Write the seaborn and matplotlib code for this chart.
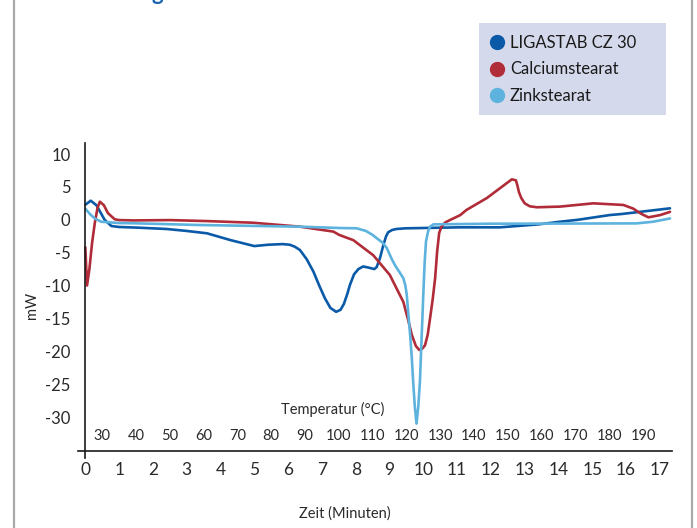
import numpy as np
import pandas as pd
import matplotlib
matplotlib.use("Agg")
import matplotlib.pyplot as plt
from matplotlib.lines import Line2D
from matplotlib.patches import Rectangle
import seaborn as sns

# ---------------- data ----------------
series_names = ["LIGASTAB CZ 30", "Calciumstearat", "Zinkstearat"]

lig_t = [0.0, 0.03, 0.16, 0.33, 0.45, 0.57, 0.77, 1.0, 1.56, 2.4, 3.0, 3.6, 4.3, 5.0, 5.4, 5.84,
         6.05, 6.2, 6.35, 6.55, 6.75, 6.92, 7.09, 7.25, 7.42, 7.55, 7.65, 7.75, 7.83, 7.95,
         8.08, 8.22, 8.4, 8.55, 8.62, 8.72, 8.82, 8.9, 8.96, 9.08, 9.21, 9.48, 11.09, 12.27,
         13.41, 14.04, 14.58, 15.52, 15.86, 17.3]
lig_v = [2.3, 2.4, 2.9, 2.2, 1.1, 0.0, -0.95, -1.1, -1.2, -1.4, -1.7, -2.06, -3.1, -4.0, -3.8, -3.7,
         -3.8, -4.1, -4.6, -6.0, -7.9, -10.0, -11.95, -13.4, -14.0, -13.7, -12.8, -11.3, -9.9, -8.3,
         -7.5, -7.1, -7.3, -7.5, -7.2, -5.8, -3.8, -2.5, -1.9, -1.55, -1.4, -1.3, -1.15, -1.15,
         -0.7, -0.3, 0.0, 0.72, 0.87, 1.74]

ca_t = [0.0, 0.05, 0.12, 0.2, 0.28, 0.36, 0.43, 0.55, 0.67, 0.87, 1.0, 1.42, 2.5, 3.6, 4.96, 6.35,
        7.34, 7.51, 7.93, 8.52, 9.01, 9.41, 9.55, 9.66, 9.78, 9.88, 9.97, 10.05, 10.13, 10.2,
        10.28, 10.35, 10.41, 10.47, 10.54, 10.65, 10.79, 11.09, 11.28, 11.88, 12.62, 12.74,
        12.78, 12.83, 12.9, 13.0, 13.15, 13.36, 14.04, 15.03, 15.92, 16.21, 16.45, 16.66,
        17.0, 17.3]
ca_v = [-4.2, -10.0, -7.5, -3.5, -0.5, 1.8, 2.75, 2.2, 1.0, 0.07, -0.05, -0.1, -0.05, -0.2, -0.45, -1.05,
        -1.8, -2.3, -3.1, -5.4, -8.4, -12.5, -15.2, -17.5, -19.2, -19.8, -19.6, -19.1, -17.5, -15.0,
        -12.0, -8.9, -4.8, -2.0, -1.05, -0.4, -0.04, 0.7, 1.5, 3.3, 6.15, 6.0,
        5.3, 4.2, 3.3, 2.5, 2.05, 1.9, 2.0, 2.5, 2.25, 1.7, 0.9, 0.37,
        0.7, 1.2]

zn_t = [0.0, 0.03, 0.15, 0.28, 0.47, 1.0, 1.56, 3.39, 6.35, 7.51, 8.03, 8.3, 8.5, 8.62, 8.8, 8.92,
        9.05, 9.16, 9.3, 9.41, 9.47, 9.51, 9.56, 9.61, 9.66, 9.70, 9.75, 9.80, 9.85, 9.90, 9.95,
        10.0, 10.04, 10.08, 10.14, 10.2, 10.3, 12.0, 14.0, 16.31, 16.8, 17.3]
zn_v = [1.7, 1.5, 0.8, 0.2, -0.3, -0.5, -0.55, -0.8, -1.05, -1.25, -1.3, -1.7, -2.3, -2.8, -3.5, -4.3,
        -5.8, -6.9, -8.0, -8.9, -10.0, -11.4, -14.5, -17.5, -21.0, -24.6, -28.5, -31.0, -28.5, -24.6, -18.0,
        -11.4, -6.5, -3.3, -1.8, -1.05, -0.7, -0.6, -0.58, -0.55, -0.3, 0.2]

y_ticks = [10, 5, 0, -5, -10, -15, -20, -25, -30]
x_ticks = list(range(0, 18))
temp_labels = [30, 40, 50, 60, 70, 80, 90, 100, 110, 120, 130, 140, 150, 160, 170, 180, 190]

colors = ["#0a5aa8", "#b02c38", "#5db3de"]

# ---------------- figure ----------------
W, H = 697, 528
sns.set_style("white")
plt.rcParams["font.family"] = ["Lato", "DejaVu Sans"]
text_color = "#2a2a2a"

fig = plt.figure(figsize=(W / 100, H / 100), dpi=100)
ax = fig.add_axes([77.9 / W, 1 - 457.8 / H, 593.8 / W, 315.1 / H])

df = pd.concat([
    pd.DataFrame({"Zeit": lig_t, "mW": lig_v, "Probe": series_names[0]}),
    pd.DataFrame({"Zeit": ca_t, "mW": ca_v, "Probe": series_names[1]}),
    pd.DataFrame({"Zeit": zn_t, "mW": zn_v, "Probe": series_names[2]}),
], ignore_index=True)

sns.lineplot(data=df, x="Zeit", y="mW", hue="Probe", hue_order=series_names,
             palette=colors, linewidth=1.9, legend=False, ax=ax, sort=False,
             estimator=None, solid_joinstyle="round", solid_capstyle="round")

ax.set_xlim(-0.22, 17.35)
ax.set_ylim(-36.2, 11.72)
ax.patch.set_visible(False)

for s in ["top", "right"]:
    ax.spines[s].set_visible(False)
ax.spines["left"].set_position(("data", 0))
ax.spines["bottom"].set_position(("data", -35.2))
for s in ["left", "bottom"]:
    ax.spines[s].set_color("#1a1a1a")
    ax.spines[s].set_linewidth(1.2)

ax.set_yticks(y_ticks)
ax.set_yticklabels([str(v) for v in y_ticks])
ax.set_xticks(x_ticks)
ax.set_xticklabels([str(v) for v in x_ticks])
ax.tick_params(axis="y", direction="inout", length=11.5, width=1.1, pad=5.0,
               labelsize=12, colors="#1a1a1a", labelcolor=text_color)
ax.tick_params(axis="x", direction="inout", length=8.6, width=1.1, pad=3.4,
               labelsize=12.5, colors="#1a1a1a", labelcolor=text_color)
ax.set_xlabel("")
ax.set_ylabel("")
ax.grid(False)

for i, t in enumerate(temp_labels):
    ax.text(i + 0.5, -32.9, str(t), ha="center", va="center", fontsize=10.5, color=text_color)

ax.text(7.33, -28.8, "Temperatur (°C)", ha="center", va="center", fontsize=10.5, color=text_color)

fig.text(345 / W, 1 - 514 / H, "Zeit (Minuten)", ha="center", va="center", fontsize=10.5, color=text_color)
fig.text(32 / W, 1 - 305 / H, "mW", ha="center", va="center", rotation=90, fontsize=10.5, color=text_color)

# partially cut title fragment at the top (as in the reference)
fig.text(157 / W, 1 - 0.5 / H, "g", ha="center", va="baseline", fontsize=16,
         fontweight="bold", color="#1a64b0")

# frame lines
fig.add_artist(Line2D([14 / W, 14 / W], [0, 1], transform=fig.transFigure, color="#a9a9a9", lw=1.6))
fig.add_artist(Line2D([692 / W, 692 / W], [0, 1], transform=fig.transFigure, color="#a9a9a9", lw=1.6))

# legend background box
fig.add_artist(Rectangle((479 / W, 1 - 115 / H), 187 / W, 92 / H, transform=fig.transFigure,
                         facecolor="#d5d9ec", edgecolor="none", zorder=0))

handles = [Line2D([], [], marker="o", linestyle="", markersize=10, markerfacecolor=c,
                  markeredgecolor=c) for c in colors]
leg = fig.legend(handles, series_names, loc="upper left",
                 bbox_to_anchor=(487 / W, 1 - 35 / H), bbox_transform=fig.transFigure,
                 frameon=False, fontsize=12, borderpad=0, labelspacing=0.63,
                 handletextpad=0.18, handlelength=1.2, borderaxespad=0)
for t in leg.get_texts():
    t.set_color("#1a1a1a")

fig.savefig("out.png", dpi=100)
